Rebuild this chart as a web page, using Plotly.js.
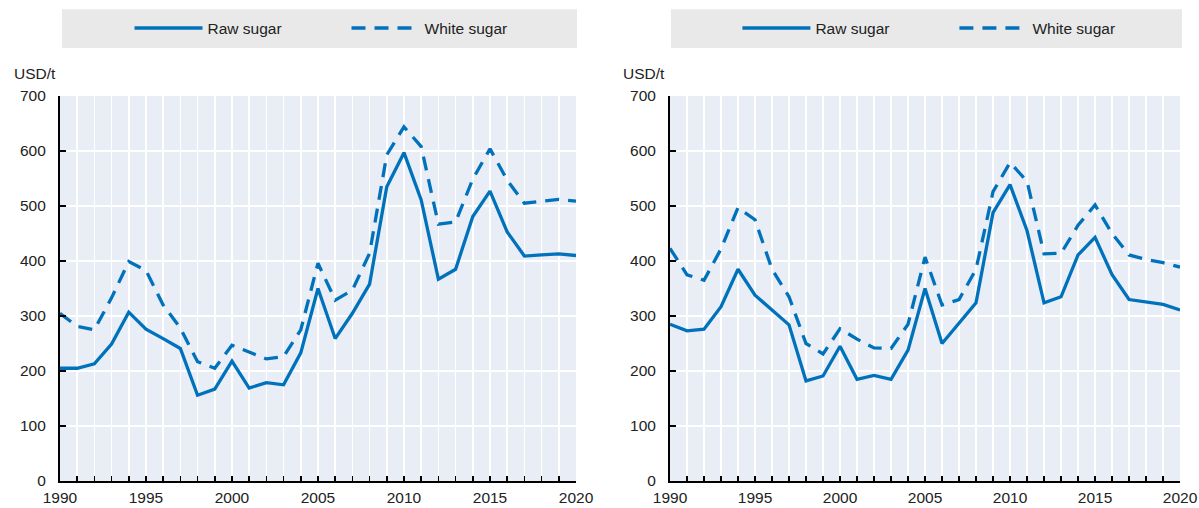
<!DOCTYPE html>
<html>
<head>
<meta charset="utf-8">
<script src="https://cdn.plot.ly/plotly-3.0.1.min.js"></script>
<style>
  html, body { margin: 0; padding: 0; background: #ffffff; }
  #chart { width: 1199px; height: 508px; }
</style>
</head>
<body>
<div id="chart"></div>
<script>
const years = [1990,1991,1992,1993,1994,1995,1996,1997,1998,1999,2000,2001,2002,2003,2004,2005,2006,2007,2008,2009,2010,2011,2012,2013,2014,2015,2016,2017,2018,2019,2020];
const tickLabels = ['1990','','','','','1995','','','','','2000','','','','','2005','','','','','2010','','','','','2015','','','','','2020'];
const seriesNames = ['Raw sugar', 'White sugar'];
const yUnit = 'USD/t';

const leftRaw   = [205,205,213,249,307,276,259,241,156,167,218,169,179,175,233,350,259,305,358,535,597,511,367,385,481,527,453,409,411,413,410];
const leftWhite = [305,281,275,333,399,383,320,278,217,205,247,235,222,226,275,396,329,347,414,593,644,608,467,471,549,604,547,505,509,512,509];
const rightRaw  = [285,273,276,317,385,338,311,284,182,191,245,185,192,185,238,350,250,287,324,488,539,455,324,335,411,443,375,330,326,321,311];
const rightWhite= [423,375,365,422,497,475,385,335,250,231,277,258,242,241,285,407,320,330,385,526,579,545,413,414,465,502,450,411,403,397,389];

const BLUE = '#0072bc';
const FONT = '"Liberation Sans", Arial, sans-serif';

function mk(y, name, dash, xa, ya, leg) {
  return {
    x: years, y: y, name: name, type: 'scatter', mode: 'lines',
    xaxis: xa, yaxis: ya, legend: leg,
    line: { color: BLUE, width: 3.3, dash: dash },
    hoverinfo: 'skip'
  };
}

const traces = [
  mk(leftRaw, seriesNames[0], 'solid', 'x', 'y', 'legend'),
  mk(leftWhite, seriesNames[1], '14px,9px', 'x', 'y', 'legend'),
  mk(rightRaw, seriesNames[0], 'solid', 'x2', 'y2', 'legend2'),
  mk(rightWhite, seriesNames[1], '14px,9px', 'x2', 'y2', 'legend2')
];

function xax(domain, anchor) {
  return {
    domain: domain, anchor: anchor, range: [1990, 2020],
    tickmode: 'array', tickvals: years, ticktext: tickLabels,
    ticks: 'inside', ticklen: 5, tickwidth: 1.5, tickcolor: '#000',
    showline: true, linecolor: '#000', linewidth: 2,
    showgrid: true, gridcolor: '#ffffff', gridwidth: 1.6,
    zeroline: false, fixedrange: true,
    ticklabelstandoff: 1,
    tickfont: { family: FONT, size: 15.5, color: '#222' }
  };
}
function yax(anchor) {
  return {
    domain: [0.0531, 0.811], anchor: anchor, range: [0, 700],
    tickvals: [0,100,200,300,400,500,600,700],
    ticks: 'inside', ticklen: 6, tickwidth: 1.5, tickcolor: '#000',
    showline: true, linecolor: '#000', linewidth: 2,
    showgrid: true, gridcolor: '#ffffff', gridwidth: 1.6,
    zeroline: false, fixedrange: true,
    ticklabelstandoff: 9,
    tickfont: { family: FONT, size: 15.5, color: '#222' }
  };
}

function leg(xc) {
  return {
    orientation: 'h', x: xc, xanchor: 'center', y: 0.944, yanchor: 'middle',
    bgcolor: 'rgba(0,0,0,0)', font: { family: FONT, size: 15.5, color: '#222' },
    itemwidth: 68, entrywidth: 134, traceorder: 'normal'
  };
}

const layout = {
  width: 1199, height: 508,
  margin: { l: 0, r: 0, t: 0, b: 0 },
  paper_bgcolor: '#ffffff', plot_bgcolor: '#e8edf6',
  showlegend: true,
  xaxis: xax([0.050, 0.4804], 'y'),
  yaxis: yax('x'),
  xaxis2: xax([0.5588, 0.9842], 'y2'),
  yaxis2: yax('x2'),
  legend: leg(0.289),
  legend2: leg(0.796),
  shapes: [
    { type: 'rect', xref: 'paper', yref: 'paper', x0: 0.0517, x1: 0.4812, y0: 0.9055, y1: 0.982,
      fillcolor: '#e9e9e9', line: { width: 0 }, layer: 'below' },
    { type: 'rect', xref: 'paper', yref: 'paper', x0: 0.5596, x1: 0.9858, y0: 0.9055, y1: 0.982,
      fillcolor: '#e9e9e9', line: { width: 0 }, layer: 'below' }
  ],
  annotations: [
    { text: yUnit, xref: 'paper', yref: 'paper', x: 0.010, y: 0.856, xanchor: 'left', yanchor: 'middle',
      showarrow: false, font: { family: FONT, size: 15.5, color: '#222' } },
    { text: yUnit, xref: 'paper', yref: 'paper', x: 0.518, y: 0.856, xanchor: 'left', yanchor: 'middle',
      showarrow: false, font: { family: FONT, size: 15.5, color: '#222' } }
  ]
};

Plotly.newPlot('chart', traces, layout, { staticPlot: true, displayModeBar: false });
</script>
</body>
</html>
